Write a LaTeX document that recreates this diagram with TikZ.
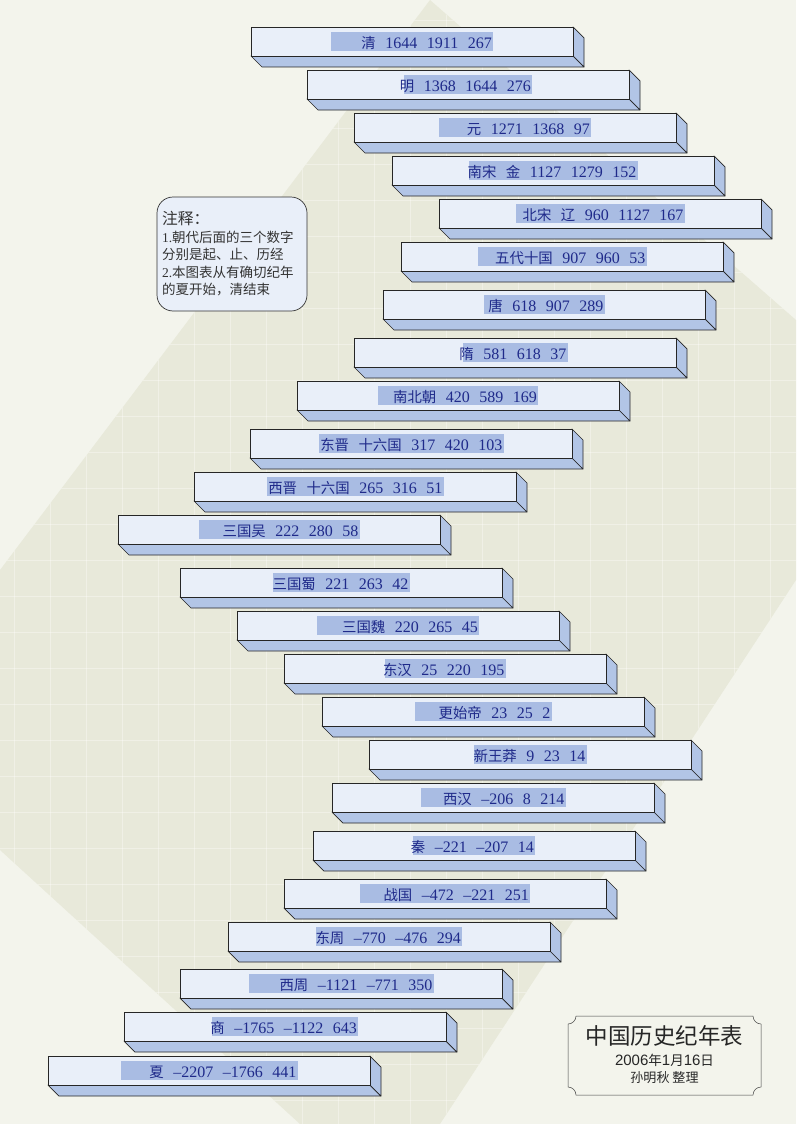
\documentclass[tikz,border=0pt]{standalone}
\usepackage{fontspec}
\setmainfont{Liberation Serif}
\setsansfont{Liberation Sans}
\newfontfamily\cjk{Noto Sans CJK SC}[Scale=0.9]
\usetikzlibrary{positioning}
\definecolor{pagelight}{HTML}{F3F4EC}
\definecolor{pagedark}{HTML}{E8E9DA}
\definecolor{barface}{HTML}{E9EFF9}
\definecolor{barshade}{HTML}{B2C5E6}
\definecolor{markblue}{HTML}{A9BCE3}
\definecolor{inkblue}{HTML}{1F2A8A}
\newcommand\zh[1]{{\cjk #1}}
% name, left x, top y, highlight width, label
\newcommand\erabar[5]{%
  \draw[barside] (#2,#3+29) -- ++(322,0) -- ++(11,11) -- ++(-322,0) -- cycle;
  \draw[barside] (#2+322,#3) -- ++(11,11) -- ++(0,29) -- ++(-11,-11) -- cycle;
  \draw[barfront] (#2,#3) rectangle ++(322,29);
  \fill[hilite] (#2+161-#4/2,#3+5) rectangle ++(#4,19);
  \node[bartext, anchor=base east] (#1) at (#2+160+#4/2,#3+21.5)
    {\spaceskip=9.5pt\relax #5};}

\begin{document}
\begin{tikzpicture}[x=1pt, y=-1pt,
    barfront/.style={draw=black!85, line width=.7pt, fill=barface},
    barside/.style={draw=black!85, line width=.7pt, fill=barshade, line join=round},
    hilite/.style={fill=markblue},
    bartext/.style={font=\fontsize{16}{18}\selectfont, text=inkblue, inner sep=0pt},
    gridline/.style={draw=white, line width=.6pt, opacity=.35},
    notebox/.style={draw=black!80, line width=.7pt, fill=barface,
      rounded corners=16pt, minimum width=150pt, minimum height=114pt,
      text width=140pt, align=left, inner sep=5pt, text=black!80,
      font=\cjk\fontsize{15}{17.5}\selectfont},
    titleframe/.style={draw=black!75, line width=.5pt, double=pagelight,
      double distance=1.6pt},
    titletext/.style={inner sep=0pt, text=black!85}
  ]
    \useasboundingbox (0,0) rectangle (796,1124);
    \fill[pagelight] (0,0) rectangle (796,1124);
    \fill[pagedark] (430,0) -- (796,320) -- (796,580) -- (440,1124)
      -- (300,1124) -- (0,850) -- (0,570) -- cycle;
    \begin{scope}
      \clip (430,0) -- (796,320) -- (796,580) -- (440,1124)
        -- (300,1124) -- (0,850) -- (0,570) -- cycle;
      \foreach \gx in {14,50,...,796}
        \draw[gridline] (\gx,0) -- (\gx,1124);
      \foreach \gy in {20,56,...,1124}
        \draw[gridline] (0,\gy) -- (796,\gy);
    \end{scope}

    \erabar{qing}{251}{27}{162}{\zh{清} 1644 1911 267}
    \erabar{ming}{307}{70}{128}{\zh{明} 1368 1644 276}
    \erabar{yuan}{354}{113}{152}{\zh{元} 1271 1368 97}
    \erabar{nansong}{392}{156}{169}{\zh{南宋} \zh{金} 1127 1279 152}
    \erabar{beisong}{439}{199}{169}{\zh{北宋} \zh{辽} 960 1127 167}
    \erabar{wudai}{401}{242}{169}{\zh{五代十国} 907 960 53}
    \erabar{tang}{383}{290}{121}{\zh{唐} 618 907 289}
    \erabar{sui}{354}{338}{105}{\zh{隋} 581 618 37}
    \erabar{nanbei}{297}{381}{160}{\zh{南北朝} 420 589 169}
    \erabar{dongjin}{250}{429}{185}{\zh{东晋} \zh{十六国} 317 420 103}
    \erabar{xijin}{194}{472}{177}{\zh{西晋} \zh{十六国} 265 316 51}
    \erabar{wu}{118}{515}{161}{\zh{三国吴} 222 280 58}
    \erabar{shu}{180}{568}{137}{\zh{三国蜀} 221 263 42}
    \erabar{wei}{237}{611}{162}{\zh{三国魏} 220 265 45}
    \erabar{donghan}{284}{654}{121}{\zh{东汉} 25 220 195}
    \erabar{gengshi}{322}{697}{137}{\zh{更始帝} 23 25 2}
    \erabar{xinmang}{369}{740}{113}{\zh{新王莽} 9 23 14}
    \erabar{xihan}{332}{783}{145}{\zh{西汉} –206 8 214}
    \erabar{qin}{313}{831}{122}{\zh{秦} –221 –207 14}
    \erabar{zhanguo}{284}{879}{170}{\zh{战国} –472 –221 251}
    \erabar{dongzhou}{228}{922}{146}{\zh{东周} –770 –476 294}
    \erabar{xizhou}{180}{969}{185}{\zh{西周} –1121 –771 350}
    \erabar{shang}{124}{1012}{146}{\zh{商} –1765 –1122 643}
    \erabar{xia}{48}{1056}{177}{\zh{夏} –2207 –1766 441}

    \node[notebox] (note) at (232,254)
      {{\fontsize{17.5}{19}\selectfont 注释：}\\
       {\rmfamily\fontsize{13.5}{17.5}\selectfont 1.}朝代后面的三个数字\\
       分别是起、止、历经\\
       {\rmfamily\fontsize{13.5}{17.5}\selectfont 2.}本图表从有确切纪年\\
       的夏开始，清结束};

    \draw[titleframe] (573,1010) -- (756,1010) -- (756,1020) -- (766,1020)
      -- (766,1091) -- (756,1091) -- (756,1101) -- (573,1101) -- (573,1091)
      -- (563,1091) -- (563,1020) -- (573,1020) -- cycle;
    \draw[black!75, line width=.5pt] (576,1016) -- (753,1016)
      .. controls (753,1020.4) and (756.6,1024) .. (761,1024) -- (761,1087)
      .. controls (756.6,1087) and (753,1090.6) .. (753,1095) -- (576,1095)
      .. controls (576,1090.6) and (572.4,1087) .. (568,1087) -- (568,1024)
      .. controls (572.4,1024) and (576,1020.4) .. (576,1016) -- cycle;
    \node[titletext, font=\cjk\fontsize{25}{27}\selectfont] (title) at (664.5,1036)
      {中国历史纪年表};
    \node[titletext, font=\sffamily\fontsize{15}{17}\selectfont,
      below=7pt of title] (date) {2006\zh{年}1\zh{月}16\zh{日}};
    \node[titletext, font=\cjk\fontsize{14.5}{16}\selectfont,
      below=5pt of date] (editor) {孙明秋 整理};
  \end{tikzpicture}
\end{document}
